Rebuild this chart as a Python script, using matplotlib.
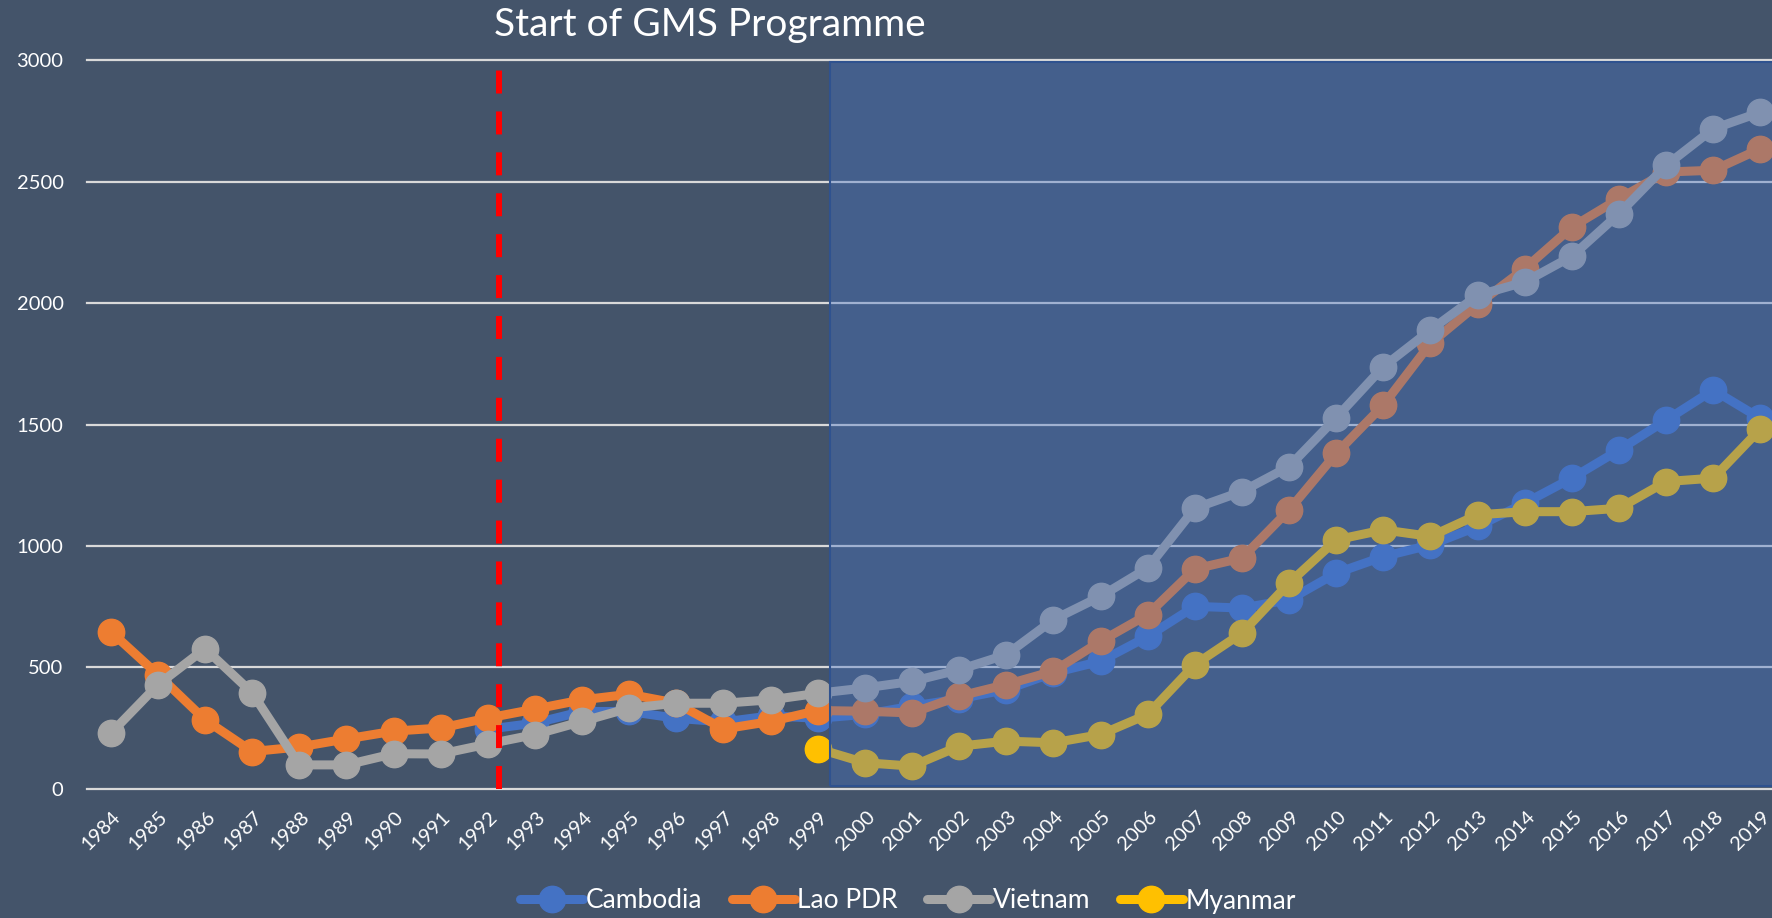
import matplotlib
matplotlib.use("Agg")
import matplotlib.pyplot as plt
import matplotlib.transforms as mtransforms
from matplotlib.patches import Rectangle
import numpy as np

nan = np.nan

years = list(range(1984, 2020))

cambodia = [nan, nan, nan, nan, nan, nan, nan, nan,
            245, 270, 318, 318, 290, 275, 300, 290,
            306, 340, 370, 408, 477, 525, 627, 751, 744, 778,
            888, 956, 1004, 1080, 1176, 1279, 1395, 1518, 1642, 1525]
lao = [647, 470, 284, 153, 172, 205, 237, 250,
       291, 328, 366, 389, 352, 246, 277, 322,
       319, 312, 381, 429, 484, 607, 717, 905, 950, 1148,
       1381, 1580, 1834, 1995, 2142, 2313, 2430, 2540, 2547, 2636]
vietnam = [228, 428, 577, 395, 98, 98, 144, 143,
           184, 223, 277, 332, 352, 352, 366, 393,
           415, 442, 490, 552, 696, 792, 909, 1155, 1224, 1327,
           1528, 1738, 1889, 2032, 2087, 2193, 2368, 2567, 2718, 2786]
myanmar = [nan] * 15 + [165,
           107, 93, 175, 196, 189, 223, 306, 511, 641, 847,
           1025, 1066, 1039, 1128, 1141, 1141, 1155, 1265, 1279, 1482]

series = [("Cambodia", cambodia, "#4472C4"),
          ("Lao PDR", lao, "#ED7D31"),
          ("Vietnam", vietnam, "#A5A5A5"),
          ("Myanmar", myanmar, "#FFC000")]

programme_start = 8.23   # between 1992 and 1993
shade_start = 15.25

bg = "#44546A"
plt.rcParams["font.family"] = ["Lato", "DejaVu Sans"]

W, H = 1772, 918
fig = plt.figure(figsize=(W / 100, H / 100), dpi=100, facecolor=bg)
ax = fig.add_axes([87.2 / W, 1 - 788.7 / H, (1784 - 87.2) / W, (788.7 - 60.3) / H])
ax.set_facecolor(bg)

x = np.arange(len(years))
for name, vals, col in series:
    ax.plot(x, vals, color=col, lw=6.5, marker="o", markersize=19,
            label=name, zorder=3, solid_capstyle="round")

ax.set_xlim(-0.5, 35.5)
ax.set_ylim(0, 3000)
ax.set_yticks(range(0, 3001, 500))
ax.yaxis.grid(True, color="#D9D9D9", lw=1.6, zorder=1)
for gl in ax.get_ygridlines():
    gl.set_clip_on(False)
ax.set_axisbelow(True)
for s in ax.spines.values():
    s.set_visible(False)

ax.tick_params(axis="y", length=0, pad=17, labelsize=14.5, labelcolor="white")
ax.tick_params(axis="x", length=0, pad=14, labelsize=14.5, labelcolor="white")
ax.set_xticks(x)
ax.set_xticklabels([str(y) for y in years], rotation=45, ha="right",
                   rotation_mode="anchor")
off = mtransforms.ScaledTranslation(1 / 100, 0, fig.dpi_scale_trans)
for lab in ax.get_xticklabels():
    lab.set_transform(lab.get_transform() + off)

# red dashed marker for programme start
ax.plot([programme_start, programme_start], [0, 3000], color="#FF0000",
        lw=4.3, dashes=(3.85, 3.0), zorder=4, clip_on=False)

# shaded period after 1999
ax.add_patch(Rectangle((shade_start, 10), 40, 2985, facecolor="#4472C4",
                       alpha=0.38, edgecolor="none", zorder=5))
ax.add_patch(Rectangle((shade_start, 10), 40, 2985, facecolor="none",
                       edgecolor="#2F528F", lw=1.5, zorder=5))

fig.text(709.5 / W, 1 - 25 / H, "Start of GMS Programme", color="white",
         fontsize=28, ha="center", va="center")

fig.legend(loc="center", bbox_to_anchor=(908 / W, 1 - 901 / H), ncol=4,
           frameon=False, fontsize=19, labelcolor="white", handlelength=2.4,
           handletextpad=0.1, columnspacing=1.1, numpoints=1)

fig.savefig("out.png", dpi=100, facecolor=bg)
